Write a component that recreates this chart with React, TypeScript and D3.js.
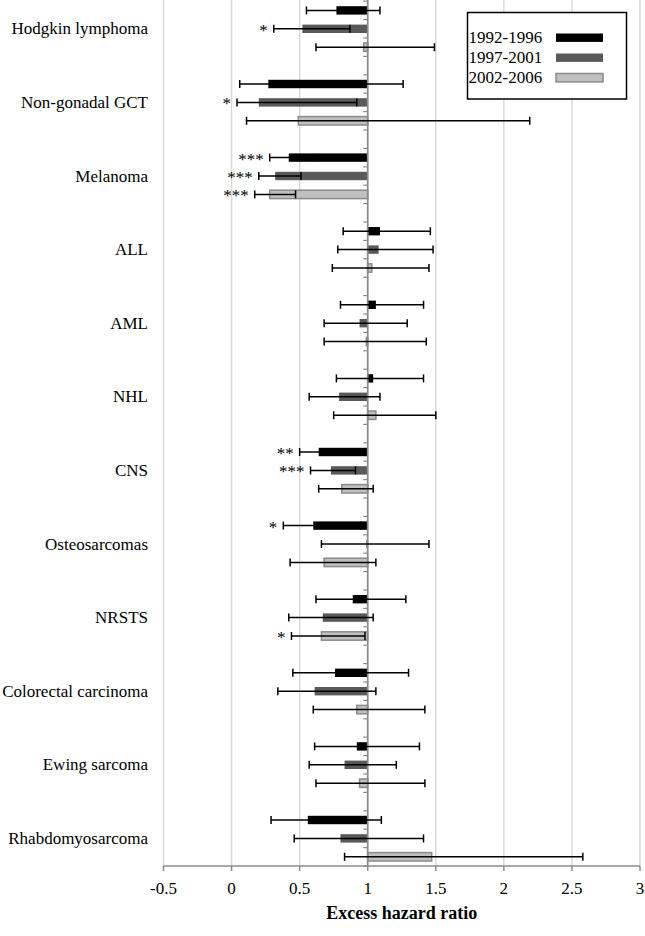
import React from "react";
import * as d3 from "d3";

const categories = [
  "Hodgkin lymphoma",
  "Non-gonadal GCT",
  "Melanoma",
  "ALL",
  "AML",
  "NHL",
  "CNS",
  "Osteosarcomas",
  "NRSTS",
  "Colorectal carcinoma",
  "Ewing sarcoma",
  "Rhabdomyosarcoma",
];
const periods = ["1992-1996", "1997-2001", "2002-2006"];

const hr1992 = [0.77, 0.27, 0.42, 1.09, 1.06, 1.04, 0.64, 0.6, 0.89, 0.76, 0.92, 0.56];
const lo1992 = [0.55, 0.06, 0.28, 0.82, 0.8, 0.77, 0.5, 0.38, 0.62, 0.45, 0.61, 0.29];
const hi1992 = [1.09, 1.26, 0.63, 1.46, 1.41, 1.41, 0.81, 0.95, 1.28, 1.3, 1.38, 1.1];
const star1992 = ["", "", "***", "", "", "", "**", "*", "", "", "", ""];

const hr1997 = [0.52, 0.2, 0.32, 1.08, 0.94, 0.79, 0.73, 0.99, 0.67, 0.61, 0.83, 0.8];
const lo1997 = [0.31, 0.04, 0.2, 0.78, 0.68, 0.57, 0.58, 0.66, 0.42, 0.34, 0.57, 0.46];
const hi1997 = [0.87, 0.92, 0.51, 1.48, 1.29, 1.09, 0.91, 1.45, 1.04, 1.06, 1.21, 1.41];
const star1997 = ["*", "*", "***", "", "", "", "***", "", "", "", "", ""];

const hr2002 = [0.97, 0.49, 0.28, 1.03, 0.99, 1.06, 0.81, 0.68, 0.66, 0.92, 0.94, 1.47];
const lo2002 = [0.62, 0.11, 0.17, 0.74, 0.68, 0.75, 0.64, 0.43, 0.44, 0.6, 0.62, 0.83];
const hi2002 = [1.49, 2.19, 0.47, 1.45, 1.43, 1.5, 1.04, 1.06, 0.98, 1.42, 1.42, 2.58];
const star2002 = ["", "", "***", "", "", "", "", "", "*", "", "", ""];

const xTicks = [-0.5, 0, 0.5, 1, 1.5, 2, 2.5, 3];
const xTickLabels = ["-0.5", "0", "0.5", "1", "1.5", "2", "2.5", "3"];
const xTitle = "Excess hazard ratio";

const seriesStyle = [
  { fill: "#000000", stroke: "none" },
  { fill: "#595959", stroke: "none" },
  { fill: "#c0c0c0", stroke: "#8a8a8a" },
];

const W = 645;
const H = 936;
const FONT = "'Liberation Serif', 'Times New Roman', serif";

export default function App() {
  const axisY = 866;
  const groupH = 73.6;
  const x = d3.scaleLinear().domain([-0.5, 3]).range([163.5, 640]);
  const y = d3
    .scaleBand<string>()
    .domain(categories)
    .range([axisY - categories.length * groupH, axisY])
    .padding(0);
  const inner = d3
    .scaleBand<string>()
    .domain(["_gap", ...periods])
    .range([0, y.bandwidth()])
    .padding(0);
  const slot = inner.bandwidth();
  const barH = 8.4;

  const series = [
    { hr: hr1992, lo: lo1992, hi: hi1992, star: star1992 },
    { hr: hr1997, lo: lo1997, hi: hi1997, star: star1997 },
    { hr: hr2002, lo: lo2002, hi: hi2002, star: star2002 },
  ];

  const x1 = x(1);
  const yc = (ci: number, pi: number) =>
    (y(categories[ci]) as number) + (inner(periods[pi]) as number) + slot / 2;

  const minorTicks: number[] = [];
  categories.forEach((c) => {
    for (let k = 0; k < 4; k++) minorTicks.push((y(c) as number) + k * slot);
  });
  minorTicks.push(axisY);

  return (
    <svg
      width={W}
      height={H}
      style={{ position: "absolute", left: 0, top: 0, background: "#fff" }}
      fontFamily={FONT}
    >
      <rect x={0} y={0} width={W} height={H} fill="#fff" />
      {/* gridlines */}
      {xTicks
        .filter((t) => t !== 1)
        .map((t) => (
          <line
            key={"g" + t}
            x1={x(t)}
            x2={x(t)}
            y1={0}
            y2={axisY}
            stroke="#d9d9d9"
            strokeWidth={1.5}
          />
        ))}
      {/* bottom axis */}
      <line x1={x(-0.5)} x2={x(3)} y1={axisY} y2={axisY} stroke="#8c8c8c" strokeWidth={1.5} />
      {xTicks.map((t, i) => (
        <g key={"t" + t}>
          <line x1={x(t)} x2={x(t)} y1={axisY} y2={axisY + 5} stroke="#8c8c8c" strokeWidth={1.5} />
          <text x={x(t)} y={893.5} textAnchor="middle" fontSize={17} fill="#000">
            {xTickLabels[i]}
          </text>
        </g>
      ))}
      <text
        x={(x(-0.5) + x(3)) / 2}
        y={919}
        textAnchor="middle"
        fontSize={18}
        fontWeight="bold"
        fill="#000"
      >
        {xTitle}
      </text>
      {/* bars */}
      {series.map((s, pi) =>
        s.hr.map((v, ci) => {
          const cy = yc(ci, pi);
          const st = seriesStyle[pi];
          const x0 = Math.min(x(v), x1);
          const w = Math.abs(x(v) - x1);
          return (
            <rect
              key={`b${pi}-${ci}`}
              x={x0}
              y={cy - barH / 2}
              width={Math.max(w, 0.8)}
              height={barH}
              fill={st.fill}
              stroke={st.stroke}
              strokeWidth={st.stroke === "none" ? 0 : 1.5}
            />
          );
        })
      )}
      {/* vertical axis at 1 */}
      <line x1={x1} x2={x1} y1={0} y2={axisY} stroke="#8c8c8c" strokeWidth={1.8} />
      {minorTicks.map((ty, i) => (
        <line key={"m" + i} x1={x1 - 4.5} x2={x1} y1={ty} y2={ty} stroke="#8c8c8c" strokeWidth={1.2} />
      ))}
      {/* error bars */}
      {series.map((s, pi) =>
        s.hr.map((v, ci) => {
          const cy = yc(ci, pi);
          const xl = x(s.lo[ci]);
          const xh = x(s.hi[ci]);
          return (
            <g key={`e${pi}-${ci}`} stroke="#000" strokeWidth={1.5}>
              <line x1={xl} x2={xh} y1={cy} y2={cy} />
              <line x1={xl} x2={xl} y1={cy - 4} y2={cy + 4} />
              <line x1={xh} x2={xh} y1={cy - 4} y2={cy + 4} />
            </g>
          );
        })
      )}
      {/* significance stars */}
      {series.map((s, pi) =>
        s.star.map((st, ci) =>
          st ? (
            <text
              key={`s${pi}-${ci}`}
              x={x(s.lo[ci]) - 6}
              y={yc(ci, pi) + 7}
              textAnchor="end"
              fontSize={17}
              fill="#000"
            >
              {st}
            </text>
          ) : null
        )
      )}
      {/* category labels */}
      {categories.map((c, ci) => (
        <text key={"c" + c} x={148} y={yc(ci, 1)} dy="0.33em" textAnchor="end" fontSize={17} fill="#000">
          {c}
        </text>
      ))}
      {/* legend */}
      <rect x={467.5} y={12.5} width={159} height={86.5} fill="#fff" stroke="#000" strokeWidth={1.5} />
      {periods.map((p, i) => {
        const ly = 37.7 + i * 20;
        const st = seriesStyle[i];
        return (
          <g key={"l" + p}>
            <text x={468.5} y={ly} dy="0.33em" fontSize={17} fill="#000">
              {p}
            </text>
            <rect
              x={556}
              y={ly - 4.2}
              width={47}
              height={8.4}
              fill={st.fill}
              stroke={st.stroke}
              strokeWidth={st.stroke === "none" ? 0 : 1.5}
            />
          </g>
        );
      })}
    </svg>
  );
}
